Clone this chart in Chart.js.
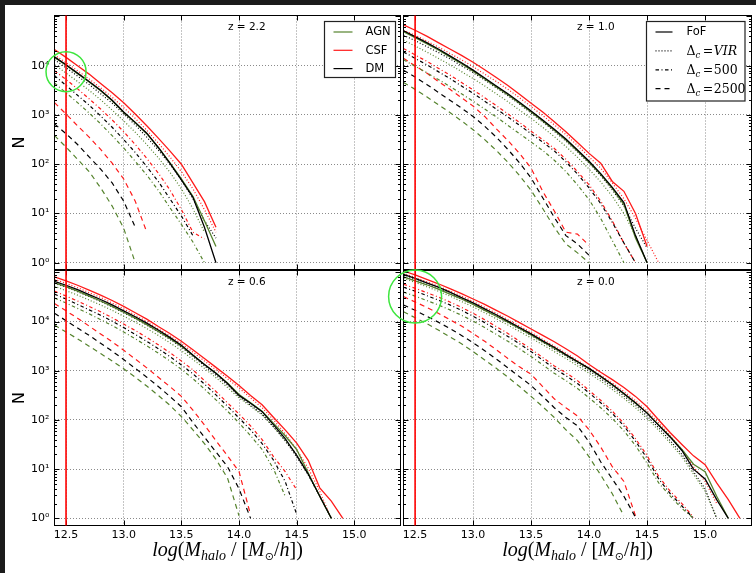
<!DOCTYPE html>
<html>
<head>
<meta charset="utf-8">
<script src="https://cdn.jsdelivr.net/npm/chart.js@4.4.1/dist/chart.umd.min.js"></script>
<style>
  html, body { margin: 0; padding: 0; background: #1b1b1b; }
  #page { position: relative; width: 756px; height: 573px; overflow: hidden; }
  #paper { position: absolute; left: 5px; top: 5px; width: 751px; height: 568px; background: #fff; }
  canvas { position: absolute; left: 0; top: 0; }
</style>
</head>
<body>
<div id="page">
  <div id="paper"></div>
  <canvas id="z22" width="756" height="573"></canvas>
  <canvas id="z10" width="756" height="573"></canvas>
  <canvas id="z06" width="756" height="573"></canvas>
  <canvas id="z00" width="756" height="573"></canvas>
</div>
<script>
// Halo mass function, four redshifts, three runs x four halo definitions
(function () {
  'use strict';

  // mass bins, log10(M_halo / [Msun/h])
  const LOG_MASS = [12.4, 12.5, 12.6, 12.7, 12.8, 12.9, 13.0, 13.1, 13.2, 13.3, 13.4, 13.5, 13.6, 13.7, 13.8,
    13.9, 14.0, 14.1, 14.2, 14.3, 14.4, 14.5, 14.6, 14.7, 14.8, 14.9, 15.0, 15.1, 15.2, 15.3];
  const X_TICKS = [12.5, 13.0, 13.5, 14.0, 14.5, 15.0];
  const X_TICK_LABELS = ['12.5', '13.0', '13.5', '14.0', '14.5', '15.0'];
  const Y_TICKS = [0, 1, 2, 3, 4];
  const Y_TICK_LABELS = ['10\u2070', '10\u00b9', '10\u00b2', '10\u00b3', '10\u2074'];
  const MASS_CUT = 12.5;

  // counts, stored as log10(N)
  // z = 2.2
  const Z22_CSF_FOF = [4.33, 4.17, 4.00, 3.83, 3.64, 3.45, 3.25, 3.02, 2.78, 2.53, 2.27, 2.00, 1.62, 1.24, 0.72];
  const Z22_DM_FOF = [4.18, 4.02, 3.85, 3.68, 3.50, 3.30, 3.06, 2.85, 2.63, 2.34, 2.02, 1.68, 1.33, 0.72, 0.00];
  const Z22_AGN_FOF = [4.17, 4.01, 3.84, 3.67, 3.49, 3.29, 3.05, 2.84, 2.62, 2.34, 2.03, 1.70, 1.35, 0.85, 0.33];
  const Z22_CSF_VIR = [4.22, 4.06, 3.90, 3.73, 3.55, 3.36, 3.15, 2.93, 2.69, 2.43, 2.15, 1.85, 1.50, 1.08, 0.62];
  const Z22_DM_VIR = [4.12, 3.96, 3.79, 3.62, 3.43, 3.24, 3.02, 2.80, 2.55, 2.29, 2.00, 1.68, 1.30, 0.85, 0.50];
  const Z22_AGN_VIR = [4.02, 3.85, 3.68, 3.50, 3.31, 3.10, 2.88, 2.65, 2.40, 2.13, 1.84, 1.50, 1.10, 0.62];
  const Z22_CSF_500 = [3.90, 3.72, 3.53, 3.33, 3.12, 2.90, 2.66, 2.40, 2.12, 1.82, 1.48, 1.08, 0.62, 0.48];
  const Z22_DM_500 = [3.80, 3.60, 3.40, 3.20, 2.98, 2.75, 2.50, 2.24, 1.95, 1.65, 1.30, 0.95, 0.55];
  const Z22_AGN_500 = [3.65, 3.45, 3.25, 3.04, 2.82, 2.58, 2.33, 2.06, 1.78, 1.47, 1.12, 0.78, 0.42, 0.00];
  const Z22_CSF_2500 = [3.25, 3.02, 2.78, 2.55, 2.30, 2.02, 1.70, 1.25, 0.62];
  const Z22_DM_2500 = [2.82, 2.62, 2.40, 2.15, 1.90, 1.62, 1.25, 0.72];
  const Z22_AGN_2500 = [2.58, 2.35, 2.10, 1.85, 1.52, 1.15, 0.70, 0.00];

  // z = 1.0
  const Z10_CSF_FOF = [4.83, 4.72, 4.60, 4.47, 4.34, 4.21, 4.07, 3.92, 3.76, 3.60, 3.42, 3.24, 3.06, 2.86, 2.66, 2.44, 2.22, 2.02, 1.65, 1.45, 1.00, 0.33];
  const Z10_DM_FOF = [4.71, 4.59, 4.47, 4.34, 4.20, 4.06, 3.91, 3.75, 3.59, 3.43, 3.26, 3.08, 2.90, 2.71, 2.51, 2.29, 2.06, 1.81, 1.53, 1.22, 0.55, 0.00];
  const Z10_AGN_FOF = [4.69, 4.57, 4.45, 4.32, 4.18, 4.04, 3.89, 3.73, 3.57, 3.41, 3.24, 3.06, 2.88, 2.69, 2.49, 2.27, 2.04, 1.79, 1.51, 1.18, 0.50, 0.00];
  const Z10_CSF_VIR = [4.72, 4.62, 4.50, 4.38, 4.25, 4.12, 3.98, 3.83, 3.68, 3.52, 3.35, 3.17, 2.99, 2.80, 2.60, 2.38, 2.15, 1.92, 1.62, 1.30, 0.90, 0.45, 0.00];
  const Z10_DM_VIR = [4.62, 4.51, 4.39, 4.27, 4.14, 4.00, 3.86, 3.71, 3.55, 3.39, 3.22, 3.04, 2.86, 2.67, 2.47, 2.25, 2.02, 1.77, 1.48, 1.15, 0.70, 0.30];
  const Z10_AGN_VIR = [4.52, 4.40, 4.28, 4.15, 4.02, 3.88, 3.74, 3.59, 3.43, 3.27, 3.10, 2.93, 2.75, 2.56, 2.36, 2.14, 1.90, 1.64, 1.35, 1.00, 0.55, 0.00];
  const Z10_CSF_500 = [4.35, 4.22, 4.09, 3.95, 3.81, 3.66, 3.51, 3.35, 3.19, 3.02, 2.85, 2.67, 2.50, 2.32, 2.10, 1.85, 1.58, 1.25, 0.85, 0.40, 0.00];
  const Z10_DM_500 = [4.28, 4.15, 4.02, 3.88, 3.74, 3.59, 3.44, 3.28, 3.12, 2.96, 2.79, 2.62, 2.45, 2.27, 2.05, 1.80, 1.52, 1.20, 0.82, 0.40, 0.00];
  const Z10_AGN_500 = [4.12, 3.99, 3.86, 3.72, 3.58, 3.43, 3.28, 3.12, 2.96, 2.79, 2.62, 2.45, 2.28, 2.08, 1.85, 1.58, 1.28, 0.90, 0.45, 0.00];
  const Z10_CSF_2500 = [4.15, 4.00, 3.85, 3.68, 3.52, 3.35, 3.18, 2.97, 2.72, 2.48, 2.22, 1.92, 1.45, 1.05, 0.62, 0.58, 0.35];
  const Z10_DM_2500 = [3.91, 3.77, 3.62, 3.46, 3.30, 3.14, 2.97, 2.77, 2.55, 2.30, 2.03, 1.72, 1.32, 0.92, 0.55, 0.38, 0.15];
  const Z10_AGN_2500 = [3.66, 3.52, 3.37, 3.21, 3.05, 2.88, 2.70, 2.50, 2.28, 2.04, 1.77, 1.47, 1.10, 0.72, 0.38, 0.20, 0.00];

  // z = 0.6
  const Z06_CSF_FOF = [4.91, 4.83, 4.74, 4.64, 4.54, 4.43, 4.31, 4.18, 4.05, 3.90, 3.76, 3.60, 3.43, 3.25, 3.07, 2.89, 2.70, 2.50, 2.31, 2.05, 1.80, 1.53, 1.18, 0.62, 0.35, 0.00];
  const Z06_DM_FOF = [4.82, 4.74, 4.65, 4.55, 4.45, 4.34, 4.22, 4.10, 3.97, 3.83, 3.68, 3.52, 3.32, 3.13, 2.95, 2.74, 2.50, 2.34, 2.17, 1.90, 1.62, 1.28, 0.90, 0.45, 0.00];
  const Z06_AGN_FOF = [4.79, 4.71, 4.62, 4.52, 4.42, 4.31, 4.19, 4.07, 3.94, 3.80, 3.66, 3.50, 3.31, 3.13, 2.95, 2.75, 2.52, 2.35, 2.18, 1.93, 1.68, 1.40, 0.92, 0.45, 0.00];
  const Z06_CSF_VIR = [4.86, 4.78, 4.69, 4.59, 4.49, 4.38, 4.26, 4.13, 4.00, 3.85, 3.71, 3.55, 3.38, 3.20, 3.02, 2.84, 2.65, 2.45, 2.25, 2.00, 1.72, 1.40, 1.02, 0.55, 0.00];
  const Z06_DM_VIR = [4.78, 4.70, 4.61, 4.51, 4.41, 4.30, 4.18, 4.06, 3.93, 3.79, 3.64, 3.48, 3.29, 3.10, 2.91, 2.71, 2.48, 2.30, 2.12, 1.86, 1.58, 1.25, 0.88, 0.45, 0.00];
  const Z06_AGN_VIR = [4.72, 4.63, 4.54, 4.44, 4.34, 4.23, 4.11, 3.99, 3.86, 3.72, 3.57, 3.41, 3.23, 3.05, 2.86, 2.66, 2.45, 2.28, 2.10, 1.85, 1.58, 1.30, 0.90, 0.45, 0.00];
  const Z06_CSF_500 = [4.62, 4.52, 4.42, 4.31, 4.20, 4.08, 3.95, 3.82, 3.68, 3.53, 3.37, 3.20, 3.02, 2.80, 2.58, 2.35, 2.12, 1.88, 1.60, 1.25, 0.95, 0.58];
  const Z06_DM_500 = [4.56, 4.46, 4.35, 4.24, 4.13, 4.01, 3.88, 3.74, 3.60, 3.45, 3.29, 3.12, 2.94, 2.73, 2.51, 2.28, 2.04, 1.80, 1.52, 1.18, 0.75, 0.08];
  const Z06_AGN_500 = [4.48, 4.38, 4.27, 4.16, 4.04, 3.92, 3.79, 3.65, 3.51, 3.36, 3.20, 3.03, 2.84, 2.63, 2.41, 2.18, 1.94, 1.68, 1.40, 1.00, 0.45];
  const Z06_CSF_2500 = [4.37, 4.22, 4.07, 3.91, 3.75, 3.59, 3.42, 3.24, 3.06, 2.87, 2.68, 2.48, 2.20, 1.90, 1.58, 1.27, 0.95, 0.07];
  const Z06_DM_2500 = [4.17, 4.02, 3.87, 3.72, 3.56, 3.40, 3.23, 3.05, 2.87, 2.68, 2.48, 2.27, 1.95, 1.65, 1.35, 1.05, 0.60, 0.00];
  const Z06_AGN_2500 = [3.93, 3.79, 3.65, 3.50, 3.35, 3.20, 3.04, 2.87, 2.69, 2.50, 2.30, 2.07, 1.80, 1.52, 1.20, 0.82, 0.05];

  // z = 0.0
  const Z00_CSF_FOF = [5.03, 4.95, 4.86, 4.77, 4.67, 4.57, 4.46, 4.35, 4.23, 4.11, 3.98, 3.85, 3.72, 3.59, 3.45, 3.30, 3.13, 2.97, 2.82, 2.66, 2.48, 2.27, 2.00, 1.74, 1.50, 1.27, 1.09, 0.72, 0.38, 0.00];
  const Z00_DM_FOF = [4.96, 4.88, 4.79, 4.70, 4.60, 4.49, 4.38, 4.26, 4.14, 4.01, 3.88, 3.75, 3.61, 3.48, 3.33, 3.19, 3.05, 2.89, 2.72, 2.54, 2.35, 2.14, 1.89, 1.65, 1.38, 1.00, 0.80, 0.38, 0.00];
  const Z00_AGN_FOF = [4.91, 4.83, 4.75, 4.66, 4.56, 4.46, 4.35, 4.23, 4.11, 3.99, 3.86, 3.73, 3.59, 3.46, 3.32, 3.18, 3.04, 2.88, 2.71, 2.53, 2.34, 2.14, 1.90, 1.66, 1.40, 1.10, 0.95, 0.45, 0.00];
  const Z00_CSF_VIR = [4.98, 4.90, 4.81, 4.72, 4.62, 4.52, 4.41, 4.29, 4.17, 4.04, 3.91, 3.78, 3.64, 3.50, 3.36, 3.21, 3.06, 2.91, 2.75, 2.58, 2.39, 2.18, 1.94, 1.68, 1.40, 1.05, 0.75, 0.30];
  const Z00_DM_VIR = [4.93, 4.85, 4.76, 4.67, 4.57, 4.46, 4.35, 4.23, 4.11, 3.98, 3.85, 3.72, 3.58, 3.44, 3.30, 3.15, 3.00, 2.84, 2.67, 2.49, 2.30, 2.08, 1.84, 1.58, 1.30, 0.95, 0.60, 0.00];
  const Z00_AGN_VIR = [4.88, 4.80, 4.71, 4.62, 4.52, 4.41, 4.30, 4.18, 4.06, 3.93, 3.80, 3.67, 3.53, 3.39, 3.25, 3.10, 2.95, 2.79, 2.62, 2.44, 2.25, 2.03, 1.79, 1.53, 1.25, 0.90, 0.55, 0.00];
  const Z00_CSF_500 = [4.76, 4.68, 4.59, 4.50, 4.40, 4.29, 4.17, 4.04, 3.90, 3.76, 3.60, 3.44, 3.27, 3.10, 2.96, 2.80, 2.60, 2.40, 2.18, 1.93, 1.62, 1.28, 0.85, 0.55, 0.30, 0.02];
  const Z00_DM_500 = [4.70, 4.62, 4.53, 4.44, 4.34, 4.23, 4.11, 3.98, 3.84, 3.70, 3.55, 3.39, 3.22, 3.05, 2.90, 2.74, 2.55, 2.35, 2.13, 1.88, 1.57, 1.22, 0.80, 0.50, 0.25, 0.00];
  const Z00_AGN_500 = [4.60, 4.52, 4.43, 4.34, 4.24, 4.13, 4.01, 3.88, 3.74, 3.60, 3.45, 3.29, 3.12, 2.95, 2.80, 2.64, 2.45, 2.25, 2.03, 1.78, 1.48, 1.12, 0.72, 0.45, 0.20, 0.00];
  const Z00_CSF_2500 = [4.51, 4.40, 4.29, 4.17, 4.04, 3.91, 3.76, 3.60, 3.43, 3.25, 3.08, 2.93, 2.68, 2.43, 2.25, 2.08, 1.80, 1.45, 1.05, 0.75, 0.05];
  const Z00_DM_2500 = [4.34, 4.23, 4.11, 3.99, 3.86, 3.72, 3.57, 3.41, 3.24, 3.06, 2.88, 2.70, 2.48, 2.25, 2.05, 1.88, 1.55, 1.15, 0.80, 0.45, 0.02];
  const Z00_AGN_2500 = [4.20, 4.08, 3.96, 3.83, 3.69, 3.55, 3.39, 3.22, 3.05, 2.87, 2.68, 2.48, 2.27, 2.05, 1.80, 1.58, 1.25, 0.88, 0.50, 0.05];

  const SIMS = ['DM', 'AGN', 'CSF'];
  const DEFS = ['FoF', 'VIR', '500', '2500'];
  const SIM_LEGEND = ['AGN', 'CSF', 'DM'];

  const SIM_COLOR = { AGN: '#55832d', CSF: '#ff1a1a', DM: '#000000' };
  const DEF_DASH = { FoF: [], VIR: [1, 2], '500': [3.5, 2.5, 1, 2.5], '2500': [5, 4] };
  const DEF_TEXT = { VIR: ['VIR', true], '500': ['500', false], '2500': ['2500', false] };

  const W = 756, H = 573;
  const PANELS = [
    { id: 'z22', label: 'z = 2.2', box: [54.5, 15.5, 400.5, 269.5], yr: [-0.138, 5.02], left: true, bottom: false,
      legend: 'sims', circle: [3.88, 20],
      table: {
        FoF: { AGN: Z22_AGN_FOF, CSF: Z22_CSF_FOF, DM: Z22_DM_FOF },
        VIR: { AGN: Z22_AGN_VIR, CSF: Z22_CSF_VIR, DM: Z22_DM_VIR },
        '500': { AGN: Z22_AGN_500, CSF: Z22_CSF_500, DM: Z22_DM_500 },
        '2500': { AGN: Z22_AGN_2500, CSF: Z22_CSF_2500, DM: Z22_DM_2500 },
      } },
    { id: 'z10', label: 'z = 1.0', box: [403.5, 15.5, 751.5, 269.5], yr: [-0.138, 5.02], left: false, bottom: false,
      legend: 'defs',
      table: {
        FoF: { AGN: Z10_AGN_FOF, CSF: Z10_CSF_FOF, DM: Z10_DM_FOF },
        VIR: { AGN: Z10_AGN_VIR, CSF: Z10_CSF_VIR, DM: Z10_DM_VIR },
        '500': { AGN: Z10_AGN_500, CSF: Z10_CSF_500, DM: Z10_DM_500 },
        '2500': { AGN: Z10_AGN_2500, CSF: Z10_CSF_2500, DM: Z10_DM_2500 },
      } },
    { id: 'z06', label: 'z = 0.6', box: [54.5, 270.5, 400.5, 525.5], yr: [-0.146, 5.04], left: true, bottom: true,
      table: {
        FoF: { AGN: Z06_AGN_FOF, CSF: Z06_CSF_FOF, DM: Z06_DM_FOF },
        VIR: { AGN: Z06_AGN_VIR, CSF: Z06_CSF_VIR, DM: Z06_DM_VIR },
        '500': { AGN: Z06_AGN_500, CSF: Z06_CSF_500, DM: Z06_DM_500 },
        '2500': { AGN: Z06_AGN_2500, CSF: Z06_CSF_2500, DM: Z06_DM_2500 },
      } },
    { id: 'z00', label: 'z = 0.0', box: [403.5, 270.5, 751.5, 525.5], yr: [-0.146, 5.04], left: false, bottom: true,
      circle: [4.51, 26.5],
      table: {
        FoF: { AGN: Z00_AGN_FOF, CSF: Z00_CSF_FOF, DM: Z00_DM_FOF },
        VIR: { AGN: Z00_AGN_VIR, CSF: Z00_CSF_VIR, DM: Z00_DM_VIR },
        '500': { AGN: Z00_AGN_500, CSF: Z00_CSF_500, DM: Z00_DM_500 },
        '2500': { AGN: Z00_AGN_2500, CSF: Z00_CSF_2500, DM: Z00_DM_2500 },
      } },
  ];

  function toPoints(values) {
    return values.map(function (v, i) { return { x: LOG_MASS[i], y: v }; });
  }

  function buildDatasets(table) {
    const out = [];
    DEFS.forEach(function (def) {
      SIMS.forEach(function (sim) {
        out.push({
          label: sim + ' ' + def,
          data: toPoints(table[def][sim]),
          borderColor: SIM_COLOR[sim],
          borderDash: DEF_DASH[def],
          borderWidth: def === 'FoF' ? 1.3 : 1.2,
          pointRadius: 0,
          fill: false,
          tension: 0,
        });
      });
    });
    return out;
  }

  function seg(ctx, x1, y1, x2, y2) {
    ctx.beginPath(); ctx.moveTo(x1, y1); ctx.lineTo(x2, y2); ctx.stroke();
  }

  function drawSimLegend(ctx, a) {
    const bx = a.right - 76, by = a.top + 6;
    ctx.fillStyle = '#fff';
    ctx.fillRect(bx, by, 71, 56);
    ctx.strokeStyle = '#222'; ctx.lineWidth = 1.2; ctx.setLineDash([]);
    ctx.strokeRect(bx, by, 71, 56);
    ctx.font = '11.5px "DejaVu Sans"'; ctx.textAlign = 'left'; ctx.textBaseline = 'middle';
    SIM_LEGEND.forEach(function (sim, i) {
      const y = by + 10.5 + i * 18.3;
      ctx.strokeStyle = SIM_COLOR[sim]; ctx.lineWidth = 1.2;
      seg(ctx, bx + 9, y, bx + 28, y);
      ctx.fillStyle = '#000';
      ctx.fillText(sim, bx + 41, y + 0.5);
    });
  }

  function drawDefLegend(ctx, a) {
    const bx = a.right - 105, by = a.top + 6;
    ctx.fillStyle = '#fff';
    ctx.fillRect(bx, by, 98.5, 79.5);
    ctx.strokeStyle = '#222'; ctx.lineWidth = 1.2; ctx.setLineDash([]);
    ctx.strokeRect(bx, by, 98.5, 79.5);
    DEFS.forEach(function (def, i) {
      const y = by + 10.5 + i * 18.9;
      ctx.strokeStyle = '#000'; ctx.lineWidth = 1.2; ctx.setLineDash(DEF_DASH[def]);
      seg(ctx, bx + 9, y, bx + 26, y);
      ctx.setLineDash([]);
      ctx.fillStyle = '#000'; ctx.textAlign = 'left';
      let x = bx + 40;
      if (def === 'FoF') {
        ctx.font = '11.5px "DejaVu Sans"'; ctx.textBaseline = 'middle';
        ctx.fillText('FoF', x, y + 0.5);
        return;
      }
      ctx.textBaseline = 'alphabetic';
      const base = y + 4.5;
      ctx.font = '12.5px "DejaVu Serif"';
      ctx.fillText('\u0394', x, base); x += ctx.measureText('\u0394').width;
      ctx.font = 'italic 8.5px "DejaVu Serif"';
      ctx.fillText('c', x, base + 2.5); x += ctx.measureText('c').width + 2.5;
      ctx.font = '12.5px "DejaVu Serif"';
      ctx.fillText('=', x, base); x += ctx.measureText('=').width + 0.5;
      const t = DEF_TEXT[def];
      ctx.font = (t[1] ? 'italic ' : '') + '12.5px "DejaVu Serif"';
      ctx.fillText(t[0], x, base);
    });
  }

  function drawMassLabel(ctx, cx, baseline) {
    const parts = [['log', 'i'], ['(', 'r'], ['M', 'i'], ['halo', 's'], [' / ', 'r'], ['[', 'r'],
      ['M', 'i'], ['\u2299', 'o'], ['/', 'r'], ['h', 'i'], ['])', 'r']];
    const fonts = {
      i: 'italic 20px "Liberation Serif"', r: '20px "Liberation Serif"',
      s: 'italic 14px "Liberation Serif"', o: '11px "DejaVu Sans"',
    };
    const drop = { i: 0, r: 0, s: 4, o: 4 };
    let total = 0;
    const widths = parts.map(function (p) {
      ctx.font = fonts[p[1]];
      const w = ctx.measureText(p[0]).width;
      total += w;
      return w;
    });
    let x = cx - total / 2;
    ctx.fillStyle = '#000'; ctx.textAlign = 'left'; ctx.textBaseline = 'alphabetic';
    parts.forEach(function (p, i) {
      ctx.font = fonts[p[1]];
      ctx.fillText(p[0], x, baseline + drop[p[1]]);
      x += widths[i];
    });
  }

  const decor = {
    id: 'decor',
    afterDatasetsDraw: function (chart, args, opts) {
      const ctx = chart.ctx, a = chart.chartArea;
      const xs = chart.scales.x, ys = chart.scales.y;
      const p = opts.panel;
      ctx.save();
      ctx.setLineDash([]);

      // frame
      ctx.strokeStyle = '#000'; ctx.lineWidth = 1;
      ctx.strokeRect(a.left, a.top, a.right - a.left, a.bottom - a.top);

      // inward ticks, all four sides
      X_TICKS.forEach(function (v) {
        const px = Math.round(xs.getPixelForValue(v)) + 0.5;
        seg(ctx, px, a.bottom, px, a.bottom - 5);
        seg(ctx, px, a.top, px, a.top + 5);
      });
      for (let k = 0; k <= 5; k++) {
        for (let m = 1; m <= 9; m++) {
          const v = k + Math.log10(m);
          if (v < p.yr[0] || v > p.yr[1]) continue;
          const len = m === 1 ? 5 : 2.5;
          const py = Math.round(ys.getPixelForValue(v)) + 0.5;
          seg(ctx, a.left, py, a.left + len, py);
          seg(ctx, a.right, py, a.right - len, py);
        }
      }

      // mass cut
      const xc = xs.getPixelForValue(MASS_CUT);
      ctx.strokeStyle = '#ff0000'; ctx.lineWidth = 1.6;
      seg(ctx, xc, a.top, xc, a.bottom);

      // highlight circle
      if (p.circle) {
        ctx.strokeStyle = '#3ee63e'; ctx.lineWidth = 1.5;
        ctx.beginPath();
        ctx.arc(xc, ys.getPixelForValue(p.circle[0]), p.circle[1], 0, Math.PI * 2);
        ctx.stroke();
      }

      // panel label
      ctx.fillStyle = '#000';
      ctx.font = '10.5px "DejaVu Sans"'; ctx.textAlign = 'center'; ctx.textBaseline = 'middle';
      ctx.fillText(p.label, a.left + 192.3, a.top + 11.5);

      if (p.legend === 'sims') drawSimLegend(ctx, a);
      if (p.legend === 'defs') drawDefLegend(ctx, a);
      if (p.bottom) drawMassLabel(ctx, (a.left + a.right) / 2, 555.5);
      ctx.restore();
    },
  };

  PANELS.forEach(function (p) {
    const yW = p.left ? 50 : 5;
    const xH = p.bottom ? 40 : 2;
    new Chart(document.getElementById(p.id), {
      type: 'line',
      data: { datasets: buildDatasets(p.table) },
      options: {
        responsive: false,
        animation: false,
        devicePixelRatio: 1,
        layout: {
          padding: { left: p.box[0] - yW, top: p.box[1], right: W - p.box[2], bottom: H - p.box[3] - xH },
        },
        plugins: {
          legend: { display: false },
          tooltip: { enabled: false },
          decor: { panel: p },
        },
        scales: {
          x: {
            type: 'linear', min: 12.4, max: 15.4,
            afterBuildTicks: function (s) { s.ticks = X_TICKS.map(function (v) { return { value: v }; }); },
            afterFit: function (s) { s.height = xH; },
            ticks: {
              display: p.bottom, maxRotation: 0, autoSkip: false, padding: 3, color: '#000',
              font: { family: 'DejaVu Sans', size: 11 },
              callback: function (v) { return X_TICK_LABELS[X_TICKS.indexOf(v)]; },
            },
            grid: { color: '#8a8a8a', lineWidth: 1, drawTicks: false },
            border: { display: false, dash: [1, 2] },
          },
          y: {
            type: 'linear', min: p.yr[0], max: p.yr[1],
            afterBuildTicks: function (s) { s.ticks = Y_TICKS.map(function (v) { return { value: v }; }); },
            afterFit: function (s) { s.width = yW; },
            ticks: {
              display: p.left, padding: 5, color: '#000',
              font: { family: 'DejaVu Sans', size: 11 },
              callback: function (v) { return Y_TICK_LABELS[Y_TICKS.indexOf(v)]; },
            },
            title: {
              display: p.left, text: 'N', color: '#000',
              font: { family: 'DejaVu Sans', size: 16 }, padding: { top: 6 },
            },
            grid: { color: '#8a8a8a', lineWidth: 1, drawTicks: false },
            border: { display: false, dash: [1, 2] },
          },
        },
      },
      plugins: [decor],
    });
  });
})();
</script>
</body>
</html>
